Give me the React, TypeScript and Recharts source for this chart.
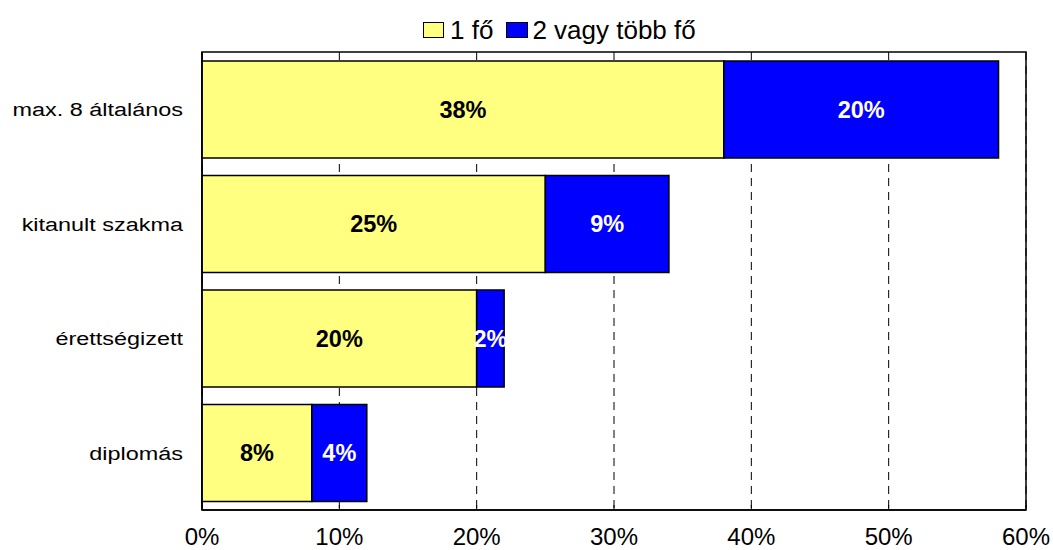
import React from "react";
import {
    BarChart,
    Bar,
    XAxis,
    YAxis,
    CartesianGrid,
    LabelList,
    ReferenceArea,
} from "recharts";

const categories = ["max. 8 általános", "kitanult szakma", "érettségizett", "diplomás"];
const onePerson = [38, 25, 20, 8];
const twoOrMore = [20, 9, 2, 4];
const xTicks = [0, 10, 20, 30, 40, 50, 60];
const seriesNames = ["1 fő", "2 vagy több fő"];

const data = categories.map((name, i) => ({
    name,
    one: onePerson[i],
    more: twoOrMore[i],
}));

const FONT = "'Liberation Sans', Arial, sans-serif";
const YELLOW = "#FFFF80";
const BLUE = "#0000FF";

// y labels look horizontally stretched in the source image
const CategoryTick = (props: any) => {
    const { x, y, payload } = props;
    return (
        <text
            transform={`translate(${x},${y}) scale(1.22,1)`}
            textAnchor="end"
            dy="0.36em"
            fontSize={19.2}
            fontFamily={FONT}
            fill="#000"
        >
            {payload.value}
        </text>
    );
};

const pct = (v: any) => `${v}%`;

export default function App() {
    return (
        <div style={{ position: "absolute", left: 0, top: 0, width: 1053, height: 550, background: "#fff" }}>
            {/* legend */}
            <div
                style={{
                    position: "absolute",
                    left: 423,
                    top: 15,
                    height: 30,
                    display: "flex",
                    alignItems: "center",
                    fontFamily: FONT,
                    fontSize: 26,
                    color: "#000",
                    whiteSpace: "nowrap",
                }}
            >
                <span style={{ width: 19, height: 14, background: YELLOW, border: "1.5px solid #000", display: "inline-block" }} />
                <span style={{ marginLeft: 6 }}>{seriesNames[0]}</span>
                <span style={{ width: 20, height: 14, background: BLUE, border: "1.5px solid #000", display: "inline-block", marginLeft: 13 }} />
                <span style={{ marginLeft: 4 }}>{seriesNames[1]}</span>
            </div>
            <BarChart
                width={1053}
                height={550}
                data={data}
                layout="vertical"
                margin={{ top: 52, right: 27, bottom: 0, left: 0 }}
            >
                <CartesianGrid horizontal={false} stroke="#000" strokeDasharray="8 6" strokeWidth={1} />
                <XAxis
                    type="number"
                    domain={[0, 60]}
                    ticks={xTicks}
                    tickFormatter={pct}
                    height={40}
                    axisLine={{ stroke: "#000", strokeWidth: 1.5 }}
                    tickLine={{ stroke: "#000" }}
                    tickSize={-5}
                    tickMargin={23}
                    tick={{ fontSize: 24, fill: "#000", fontFamily: FONT }}
                />
                <YAxis
                    type="category"
                    dataKey="name"
                    width={202}
                    axisLine={{ stroke: "#000", strokeWidth: 1.5 }}
                    tickLine={false}
                    tickSize={0}
                    tickMargin={19}
                    tick={<CategoryTick />}
                />
                <Bar
                    dataKey="one"
                    stackId="a"
                    fill={YELLOW}
                    stroke="#000"
                    strokeWidth={1.5}
                    barSize={97}
                    isAnimationActive={false}
                >
                    <LabelList
                        dataKey="one"
                        position="center"
                        formatter={pct}
                        fill="#000"
                        fontSize={23.5}
                        fontWeight="bold"
                        fontFamily={FONT}
                    />
                </Bar>
                <Bar
                    dataKey="more"
                    stackId="a"
                    fill={BLUE}
                    stroke="#000"
                    strokeWidth={1.5}
                    barSize={97}
                    isAnimationActive={false}
                >
                    <LabelList
                        dataKey="more"
                        position="center"
                        formatter={pct}
                        fill="#fff"
                        fontSize={23.5}
                        fontWeight="bold"
                        fontFamily={FONT}
                    />
                </Bar>
                <ReferenceArea x1={0} x2={60} fill="none" stroke="#000" strokeWidth={1.5} fillOpacity={0} />
            </BarChart>
        </div>
    );
}
